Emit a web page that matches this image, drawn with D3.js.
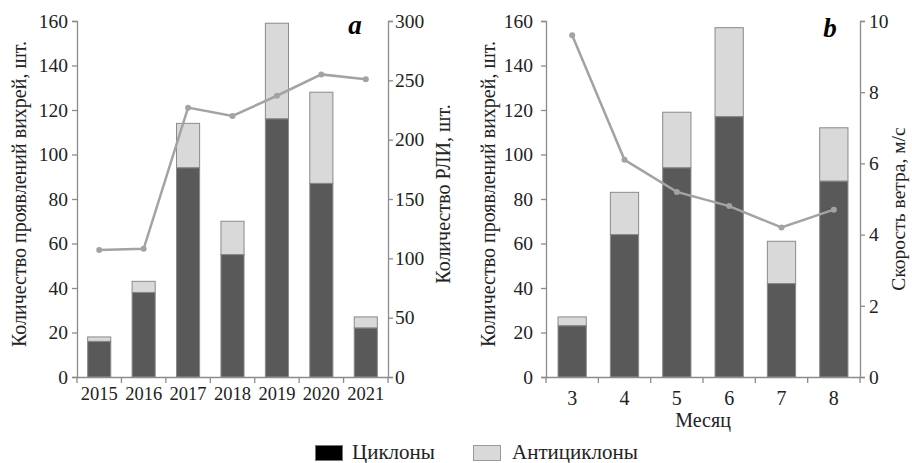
<!DOCTYPE html>
<html><head><meta charset="utf-8">
<script src="https://cdn.jsdelivr.net/npm/d3@7"></script>
<style>body{margin:0;background:#fff}svg{display:block}</style>
</head><body><svg id="c" width="912" height="463"></svg>
<script>
const years = ["2015","2016","2017","2018","2019","2020","2021"];
const yearCyclones = [16,38,94,55,116,87,22];
const yearTotal = [18,43,114,70,159,128,27];
const yearRLI = [107,108,227,220,237,255,251];
const months = ["3","4","5","6","7","8"];
const monthCyclones = [23,64,94,117,42,88];
const monthTotal = [27,83,119,157,61,112];
const monthWind = [9.6,6.1,5.2,4.8,4.2,4.7];
const leftTicks = [0,20,40,60,80,100,120,140,160];
const rliTicks = [0,50,100,150,200,250,300];
const windTicks = [0,2,4,6,8,10];

const FF = "'Liberation Serif', 'Times New Roman', serif";
const svg = d3.select("#c");
const axisCol = "#8c8c8c", darkCol = "#595959", lightCol = "#d9d9d9", lineCol = "#a3a3a3";
function T(sel){ return sel.attr("font-family",FF).attr("fill","#222"); }

function panel(o){
  const g = svg.append("g");
  const x = d3.scaleBand().domain(o.cats).range([o.x0,o.x1]).paddingInner(o.pad).paddingOuter(o.pad/2);
  const y = d3.scaleLinear().domain([0,160]).range([377,21]);
  const y2 = d3.scaleLinear().domain(o.rdom).range([377,21]);
  o.cats.forEach((c,i)=>{
    g.append("rect").attr("x",x(c)).attr("width",x.bandwidth()).attr("y",y(o.tot[i])).attr("height",y(o.cyc[i])-y(o.tot[i]))
      .attr("fill",lightCol).attr("stroke","#8a8a8a").attr("stroke-width",1);
    g.append("rect").attr("x",x(c)).attr("width",x.bandwidth()).attr("y",y(o.cyc[i])).attr("height",y(0)-y(o.cyc[i]))
      .attr("fill",darkCol).attr("stroke","#8a8a8a").attr("stroke-width",1);
  });
  const la = g.append("g").attr("transform",`translate(${o.x0},0)`).call(d3.axisLeft(y).tickValues(leftTicks).tickSize(5).tickPadding(o.lpad));
  const ra = g.append("g").attr("transform",`translate(${o.x1},0)`).call(d3.axisRight(y2).tickValues(o.rticks).tickSize(5).tickPadding(o.rpad));
  const ba = g.append("g").attr("transform",`translate(0,377)`).call(d3.axisBottom(x).tickSize(0).tickPadding(o.xpad));
  [la,ra].forEach(a=>a.attr("font-size",19.5));
  ba.attr("font-size",o.xfs);
  [la,ra,ba].forEach(a=>{a.attr("font-family",FF);
    a.select(".domain").attr("stroke",axisCol).attr("stroke-width",1.3);
    a.selectAll(".tick line").attr("stroke",axisCol).attr("stroke-width",1.3);
    a.selectAll("text").attr("fill","#222");});
  const edges = o.cats.map(c=>x(c)-x.step()*x.paddingInner()/2).concat([o.x1]);
  g.selectAll(".sep").data(edges).enter().append("line").attr("x1",d=>d).attr("x2",d=>d).attr("y1",377).attr("y2",383)
    .attr("stroke",axisCol).attr("stroke-width",1.3);
  const line = d3.line().x((d,i)=>x(o.cats[i])+x.bandwidth()/2).y(d=>y2(d));
  g.append("path").datum(o.line).attr("d",line).attr("fill","none").attr("stroke",lineCol).attr("stroke-width",2.5);
  g.selectAll(".pt").data(o.line).enter().append("circle").attr("cx",(d,i)=>x(o.cats[i])+x.bandwidth()/2).attr("cy",d=>y2(d)).attr("r",3).attr("fill",lineCol);
  T(g.append("text")).attr("transform",`translate(${o.ltx},194) rotate(-90)`).attr("text-anchor","middle").attr("dy","0.35em").attr("font-size",20).text("Количество проявлений вихрей, шт.");
  T(g.append("text")).attr("transform",`translate(${o.rtx},${o.rty}) rotate(-90)`).attr("text-anchor","middle").attr("dy","0.35em").attr("font-size",o.rfs).text(o.rtitle);
  T(g.append("text")).attr("x",o.lx).attr("y",o.ly).attr("text-anchor","middle").attr("font-size",27).attr("font-weight","bold").attr("font-style","italic").attr("fill","#000").text(o.letter);
  return x;
}

panel({cats:years,cyc:yearCyclones,tot:yearTotal,line:yearRLI,x0:77,x1:388,pad:0.48,rdom:[0,300],rticks:rliTicks,
  ltx:19,rtx:443,rty:194,rfs:20,rtitle:"Количество РЛИ, шт.",lx:355,ly:34,letter:"a",xpad:10,xfs:18.5,lpad:4,rpad:2});
panel({cats:months,cyc:monthCyclones,tot:monthTotal,line:monthWind,x0:546,x1:860,pad:0.46,rdom:[0,10],rticks:windTicks,
  ltx:488,rtx:898,rty:209,rfs:19.5,rtitle:"Скорость ветра, м/с",lx:830,ly:37,letter:"b",xpad:14,xfs:20,lpad:8,rpad:4});
T(svg.append("text")).attr("x",703).attr("y",427).attr("text-anchor","middle").attr("font-size",20).text("Месяц");

const lg = svg.append("g");
lg.append("rect").attr("x",315.5).attr("y",445.5).attr("width",27).attr("height",15).attr("fill","#000").attr("stroke","#777");
T(lg.append("text")).attr("x",352).attr("y",459).attr("font-size",21).text("Циклоны");
lg.append("rect").attr("x",473.5).attr("y",445.5).attr("width",27).attr("height",15).attr("fill",lightCol).attr("stroke","#999");
T(lg.append("text")).attr("x",512).attr("y",459).attr("font-size",21).text("Антициклоны");
</script></body></html>
